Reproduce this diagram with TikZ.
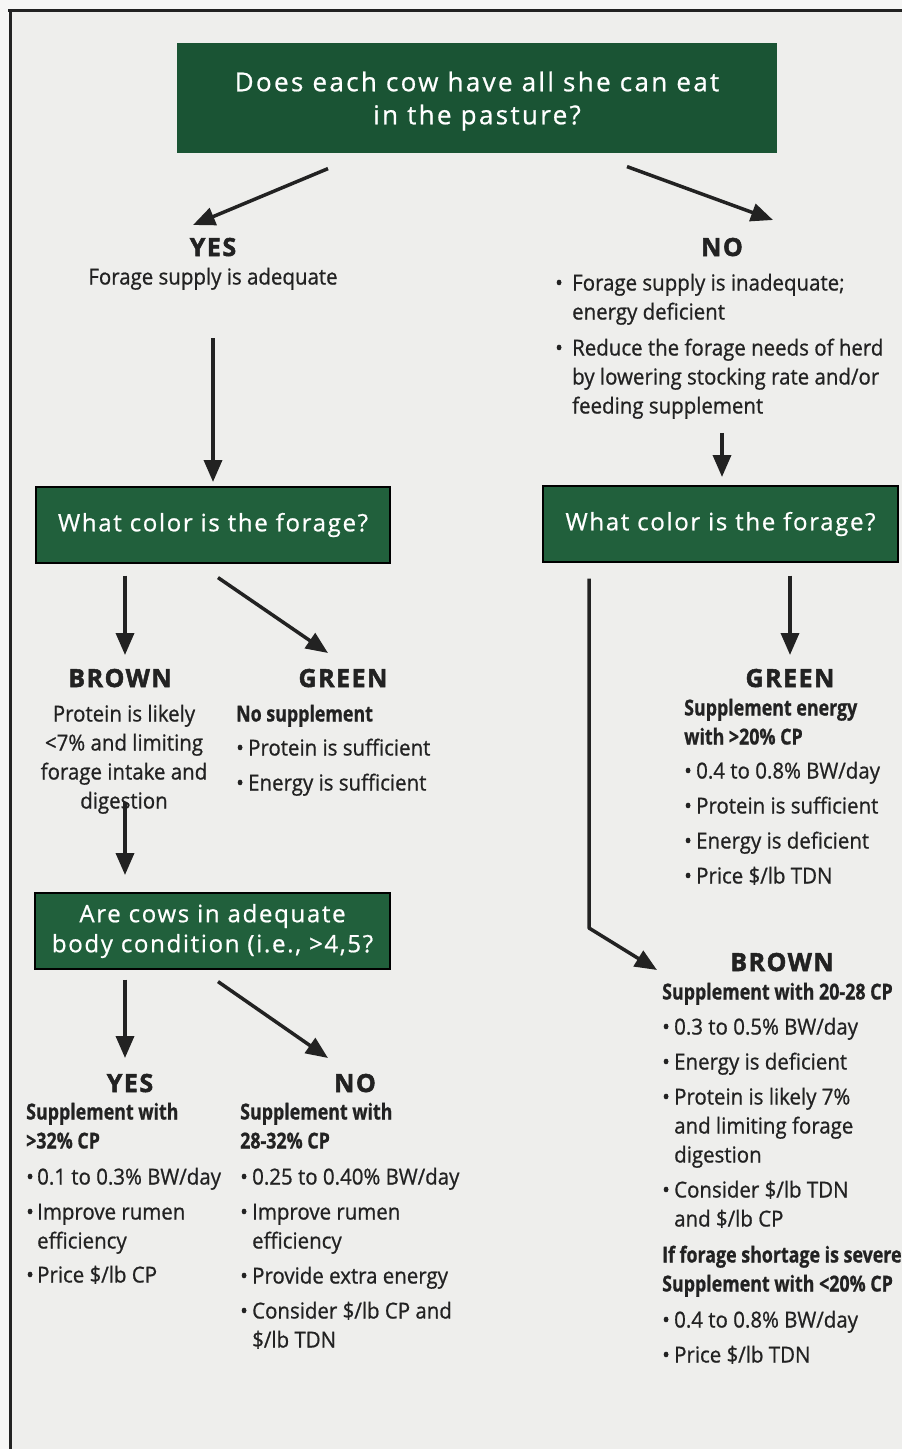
\documentclass[tikz,border=0pt]{standalone}
\usepackage{fontspec}
\setmainfont{Open Sans}[FakeStretch=0.93,FakeBold=0.8]
\newfontfamily\headfont{Open Sans}[LetterSpace=6,BoldFeatures={FakeBold=2}]
\newfontfamily\condfont{Open Sans}[FakeStretch=0.81,BoldFeatures={FakeBold=0.8}]
\newfontfamily\boxfont{Open Sans}[LetterSpace=7,FakeBold=0.8]
\newfontfamily\bigboxfont{Open Sans}[LetterSpace=9,FakeBold=0.8]
\usetikzlibrary{arrows.meta,calc}
\definecolor{bg}{HTML}{EEEEEC}
\definecolor{bgout}{HTML}{F6F6F5}
\definecolor{ink}{HTML}{222222}
\definecolor{gdark}{HTML}{1A5434}
\definecolor{gbox}{HTML}{21603C}
\newcommand\bu[2][12pt]{\makebox[#1][l]{•}#2}
\newcommand\cn[1][12pt]{\hspace*{#1}}
\newcommand\sub[1]{{\condfont\bfseries #1}}
\begin{document}
\begin{tikzpicture}[x=1pt,y=-1pt,
  body/.style={inner sep=0pt,align=left,anchor=north west,text=ink,font=\fontsize{22}{29}\selectfont},
  bodyc/.style={body,align=center,anchor=north},
  head/.style={inner sep=0pt,anchor=base,text=ink,font=\headfont\bfseries\fontsize{25}{30}\selectfont},
  qbox/.style={fill=gbox,draw=black,line width=1.2pt,text=white,inner sep=0pt,align=center,font=\boxfont\fontsize{24}{30}\selectfont},
  arr/.style={draw=ink,line width=3.5pt,-{Triangle[length=22pt,width=18pt]}},
  frame/.style={draw=ink,line width=3pt}]
\useasboundingbox (0,0) rectangle (902,1449);
\fill[bgout] (0,0) rectangle (902,1449);
\fill[bg] (10,10) rectangle (902,1449);
\draw[frame] (8,10) -- (902,10);
\draw[frame] (10,10) -- (10,1449);

% question boxes
\node[qbox,fill=gdark,draw=none,minimum width=600pt,minimum height=110pt] (q1) at (477,98) {};
\node[inner sep=0pt,align=center,text=white,font=\bigboxfont\fontsize{26}{33}\selectfont] (q1t) at (477,101)
  {Does each cow have all she can eat\\in the pasture?};
\node[qbox,minimum width=354pt,minimum height=76pt] (q2) at (213,525) {What color is the forage?};
\node[qbox,minimum width=355pt,minimum height=76pt] (q3) at (720.5,524) {What color is the forage?};
\node[qbox,minimum width=355pt,minimum height=76pt] (q4) at (212.5,931)
  {Are cows in adequate\\body condition (i.e., >4,5?};

% first level
\node[head] (yes1) at (213,256) {YES};
\node[bodyc] (yes1t) at (213,264) {\strut Forage supply is adequate};
\node[head] (no1) at (722,256) {NO};
\node[body] (no1t) at (555,270) {\strut\bu[17pt]{Forage supply is inadequate;}\\
  \cn[17pt]energy deficient\\[7pt]
  \bu[17pt]{Reduce the forage needs of herd}\\
  \cn[17pt]by lowering stocking rate and/or\\
  \cn[17pt]feeding supplement};

% left second level
\node[head] (brownL) at (120,687) {BROWN};
\node[bodyc] (brownLt) at (124,701) {\strut Protein is likely\\<7\% and limiting\\forage intake and\\digestion};
\node[head] (greenL) at (343,687) {GREEN};
\node[body] (greenLt) at (236,701) {\strut\sub{No supplement}\\[5pt]
  \bu{Protein is sufficient}\\[6pt]
  \bu{Energy is sufficient}};

% left third level
\node[head] (yes2) at (130,1092) {YES};
\node[body] (yes2t) at (26,1099) {\strut\sub{Supplement with}\\
  \sub{>32\% CP}\\[7pt]
  \bu[11pt]{0.1 to 0.3\% BW/day}\\[6pt]
  \bu[11pt]{Improve rumen}\\
  \cn[11pt]efficiency\\[5pt]
  \bu[11pt]{Price \$/lb CP}};
\node[head] (no2) at (355,1092) {NO};
\node[body] (no2t) at (240,1099) {\strut\sub{Supplement with}\\
  \sub{28-32\% CP}\\[7pt]
  \bu[12pt]{0.25 to 0.40\% BW/day}\\[6pt]
  \bu[12pt]{Improve rumen}\\
  \cn[12pt]efficiency\\[6pt]
  \bu[12pt]{Provide extra energy}\\[6pt]
  \bu[12pt]{Consider \$/lb CP and}\\
  \cn[12pt]\$/lb TDN};

% right second level
\node[head] (greenR) at (790,687) {GREEN};
\node[body] (greenRt) at (684,695) {\strut\sub{Supplement energy}\\
  \sub{with >20\% CP}\\[5pt]
  \bu{0.4 to 0.8\% BW/day}\\[6pt]
  \bu{Protein is sufficient}\\[6pt]
  \bu{Energy is deficient}\\[6pt]
  \bu{Price \$/lb TDN}};
\node[head] (brownR) at (782,971) {BROWN};
\node[body] (brownRt) at (662,979) {\strut\sub{Supplement with 20-28 CP}\\[6pt]
  \bu{0.3 to 0.5\% BW/day}\\[6pt]
  \bu{Energy is deficient}\\[6pt]
  \bu{Protein is likely 7\%}\\
  \cn and limiting forage\\
  \cn digestion\\[6pt]
  \bu{Consider \$/lb TDN}\\
  \cn and \$/lb CP\\[7pt]
  \sub{If forage shortage is severe}\\
  \sub{Supplement with <20\% CP}\\[7pt]
  \bu{0.4 to 0.8\% BW/day}\\[6pt]
  \bu{Price \$/lb TDN}};

% arrow end points
\coordinate (e1) at (193,225);
\coordinate (e2) at (773,220);
\coordinate (e3) at (213,482);
\coordinate (e4) at (722,477);
\coordinate (e5) at (125,655);
\coordinate (e6) at (328,653);
\coordinate (e7) at (125,875);
\coordinate (e8) at (125,1058);
\coordinate (e9) at (328,1058);
\coordinate (e10) at (790,655);
\coordinate (k11) at (589,928);
\coordinate (e11) at (657,970);

% connectors
\draw[arr] ([shift={(-149,15)}]q1.south) -- (e1);
\draw[arr] ([shift={(150,13)}]q1.south) -- (e2);
\draw[arr] ([shift={(0,45)}]yes1t.south) -- (e3);
\draw[arr] ([shift={(0,14)}]no1t.south -| e4) -- (e4);
\draw[arr] ([shift={(-88,12)}]q2.south) -- (e5);
\draw[arr] ([shift={(5,14)}]q2.south) -- (e6);
\draw[arr] ([shift={(0,-12)}]brownLt.south -| e7) -- (e7);
\draw[arr] ([shift={(-87.5,10)}]q4.south) -- (e8);
\draw[arr] ([shift={(5.5,12)}]q4.south) -- (e9);
\draw[arr] ([shift={(69.5,13)}]q3.south) -- (e10);
\draw[arr,line join=round] ([shift={(-131.5,16)}]q3.south) -- (k11) -- (e11);
\end{tikzpicture}
\end{document}
